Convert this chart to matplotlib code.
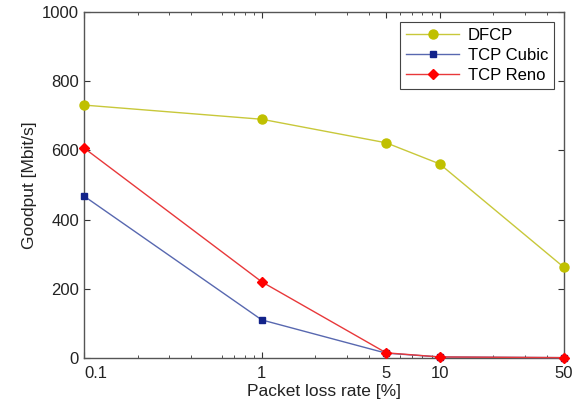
import matplotlib.pyplot as plt
from matplotlib.ticker import FixedLocator, LogLocator, NullFormatter

plt.rcParams['font.family'] = ['Liberation Sans', 'DejaVu Sans']

# Packet loss rate [%]
loss = [0.1, 1, 5, 10, 50]
dfcp = [731, 690, 622, 561, 262]
cubic = [468, 110, 14, 3, 1]
reno = [607, 220, 15, 3, 1]
xtick_labels = ['0.1', '1', '5', '10', '50']

fig = plt.figure(figsize=(5.82, 4.07), dpi=100)
ax = fig.add_axes([0.1443, 0.1204, 0.969 - 0.1443, 0.9705 - 0.1204])

ax.plot(loss, dfcp, '-o', color='#c8c83a', mfc='#c0c000', mec='#c0c000',
        ms=6.5, lw=1, label='DFCP', clip_on=False, zorder=3)
ax.plot(loss, cubic, '-s', color='#5868b0', mfc='#12238a', mec='#12238a',
        ms=5, lw=1, label='TCP Cubic', clip_on=False, zorder=3)
ax.plot(loss, reno, '-D', color='#e8383a', mfc='#ff0000', mec='#ff0000',
        ms=5.5, lw=1, label='TCP Reno', clip_on=False, zorder=4)

ax.set_xscale('log')
ax.set_xlim(0.1, 50)
ax.set_ylim(0, 1000)
ax.xaxis.set_major_locator(FixedLocator(loss))
ax.set_xticklabels(xtick_labels)
ax.xaxis.set_minor_locator(LogLocator(base=10, subs=[2, 3, 4, 6, 7, 8, 9]))
ax.xaxis.set_minor_formatter(NullFormatter())
ax.set_yticks([0, 200, 400, 600, 800, 1000])

ax.tick_params(which='both', direction='in', top=True, right=True,
               labelsize=12, colors='#333333', labelcolor='#222222')
ax.tick_params(which='major', length=4, width=0.8)
ax.tick_params(which='minor', length=2.5, width=0.6)
ax.tick_params(axis='x', pad=6)
# first x label sits to the right of the corner, clear of the "0"
ax.get_xticklabels()[0].set_horizontalalignment('left')
for s in ax.spines.values():
    s.set_color('#555555')
    s.set_linewidth(1)

ax.set_xlabel('Packet loss rate [%]', fontsize=12.5, color='#222222', labelpad=2)
ax.set_ylabel('Goodput [Mbit/s]', fontsize=12.5, color='#222222', labelpad=4)

leg = ax.legend(loc='upper right', fontsize=12, fancybox=False, framealpha=1,
                edgecolor='#444444', borderaxespad=0.6, handlelength=3.2,
                labelspacing=0.3, borderpad=0.35, handletextpad=0.5)
leg.get_frame().set_linewidth(0.8)

fig.savefig('out.png', dpi=100)
